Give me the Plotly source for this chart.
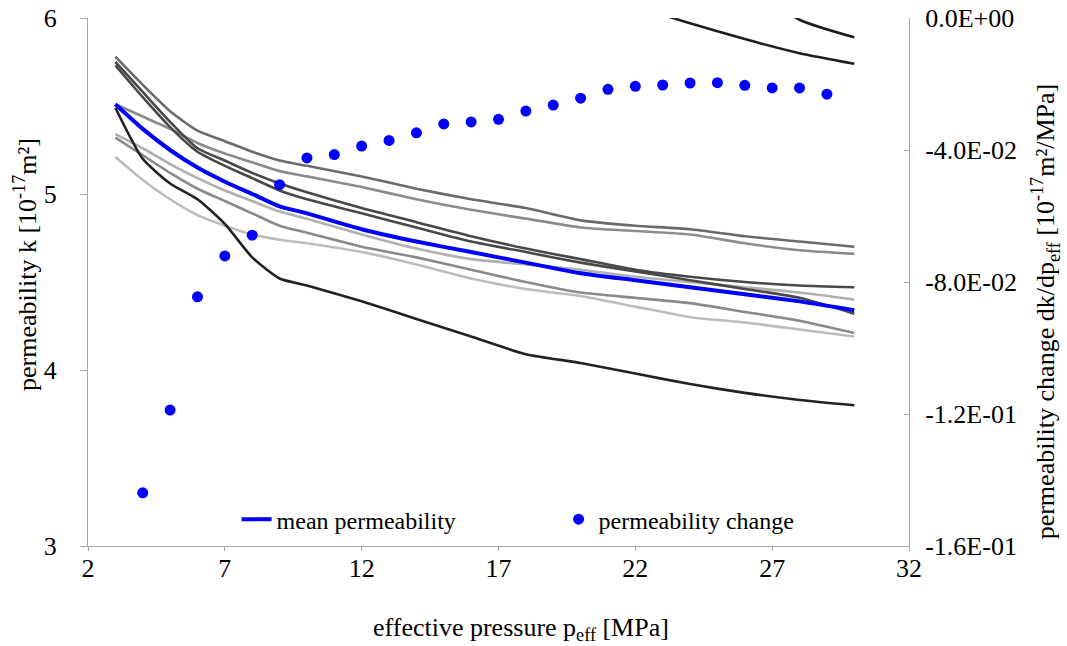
import plotly.graph_objects as go

# effective pressure grid for the individual sample curves [MPa]
p_eff = [3, 4, 5, 6, 7, 8, 9, 10, 12, 14, 16, 18, 20, 22, 24, 26, 28, 30]

# individual sample permeabilities [1e-17 m2]
sample_a = [5.78, 5.62, 5.47, 5.36, 5.30, 5.24, 5.19, 5.16, 5.10, 5.03, 4.97, 4.92, 4.85, 4.82, 4.80, 4.76, 4.73, 4.70]
sample_b = [5.51, 5.44, 5.37, 5.29, 5.23, 5.18, 5.13, 5.10, 5.04, 4.97, 4.91, 4.86, 4.81, 4.79, 4.77, 4.72, 4.68, 4.66]
sample_c = [5.75, 5.58, 5.41, 5.26, 5.19, 5.12, 5.06, 5.01, 4.92, 4.84, 4.76, 4.69, 4.63, 4.57, 4.53, 4.50, 4.48, 4.47]
sample_e = [5.73, 5.55, 5.38, 5.24, 5.16, 5.09, 5.02, 4.97, 4.89, 4.81, 4.73, 4.67, 4.61, 4.56, 4.51, 4.46, 4.41, 4.32]
sample_d = [5.34, 5.26, 5.17, 5.09, 5.02, 4.96, 4.90, 4.86, 4.77, 4.69, 4.63, 4.60, 4.57, 4.53, 4.50, 4.47, 4.44, 4.40]
sample_f = [5.32, 5.22, 5.12, 5.03, 4.96, 4.89, 4.82, 4.78, 4.70, 4.64, 4.57, 4.50, 4.44, 4.41, 4.38, 4.33, 4.28, 4.21]
sample_g = [5.21, 5.08, 4.97, 4.88, 4.82, 4.77, 4.74, 4.72, 4.67, 4.60, 4.52, 4.46, 4.42, 4.36, 4.30, 4.27, 4.23, 4.19]
sample_h = [5.49, 5.20, 5.06, 4.97, 4.83, 4.64, 4.52, 4.48, 4.39, 4.29, 4.19, 4.09, 4.04, 3.98, 3.92, 3.87, 3.83, 3.80]
sample_i = [8.6, 8.3, 8.0, 7.8, 7.6, 7.4, 7.25, 7.1, 6.9, 6.7, 6.5, 6.35, 6.2, 6.07, 5.97, 5.88, 5.80, 5.74]
sample_j = [9.2, 8.9, 8.6, 8.3, 8.1, 7.9, 7.7, 7.55, 7.3, 7.05, 6.85, 6.65, 6.45, 6.3, 6.38, 6.2, 5.99, 5.89]

mean_perm = [5.51, 5.37, 5.25, 5.15, 5.07, 5.00, 4.93, 4.89, 4.80, 4.73, 4.67, 4.61, 4.55, 4.51, 4.47, 4.43, 4.39, 4.34]

# permeability change dk/dp_eff [1e-17 m2/MPa]
p_change = [4, 5, 6, 7, 8, 9, 10, 11, 12, 13, 14, 15, 16, 17, 18, 19, 20, 21, 22, 23, 24, 25, 26, 27, 28, 29]
dk_dp = [-0.1439, -0.1188, -0.0845, -0.0721, -0.0658, -0.0505, -0.0424, -0.0414, -0.0388, -0.0371,
         -0.0348, -0.0321, -0.0315, -0.0307, -0.0282, -0.0264, -0.0243, -0.0216, -0.0207, -0.0203,
         -0.0197, -0.0196, -0.0204, -0.0212, -0.0212, -0.0231]

x_ticks = [2, 7, 12, 17, 22, 27, 32]
y_ticks = [3, 4, 5, 6]
y2_ticks = [0.0, -0.04, -0.08, -0.12, -0.16]
y2_ticktext = ["0.0E+00", "-4.0E-02", "-8.0E-02", "-1.2E-01", "-1.6E-01"]

x_title = "effective pressure p<sub>eff</sub> [MPa]"
y_title = "permeability k [10<sup>-17</sup>m²]"
y2_title = "permeability change dk/dp<sub>eff</sub> [10<sup>-17</sup>m²/MPa]"

samples = [
    (sample_i, "#1e1e1e"),
    (sample_j, "#1e1e1e"),
    (sample_g, "#bdbdbd"),
    (sample_d, "#b0b0b0"),
    (sample_f, "#8a8a8a"),
    (sample_b, "#8c8c8c"),
    (sample_a, "#6a6a6a"),
    (sample_c, "#484848"),
    (sample_e, "#484848"),
    (sample_h, "#222222"),
]

FONT = "Liberation Serif"
fig = go.Figure()
for vals, col in samples:
    fig.add_trace(go.Scatter(x=p_eff, y=vals, mode="lines", showlegend=False,
                             line=dict(color=col, width=2.6, shape="spline", smoothing=0.6),
                             hoverinfo="skip"))

fig.add_trace(go.Scatter(x=p_eff, y=mean_perm, mode="lines", name="mean permeability",
                         line=dict(color="#0000ff", width=4, shape="spline", smoothing=0.6)))
fig.add_trace(go.Scatter(x=p_change, y=dk_dp, mode="markers", name="permeability change",
                         yaxis="y2", marker=dict(color="#0000ff", size=11)))

axis_line = "#a6a6a6"
fig.update_layout(
    width=1067, height=646,
    margin=dict(l=88, r=158, t=18, b=100),
    paper_bgcolor="white", plot_bgcolor="white",
    font=dict(family=FONT, size=26, color="black"),
    xaxis=dict(range=[2, 32], tickvals=x_ticks, showgrid=False, zeroline=False,
               showline=True, linecolor=axis_line, linewidth=1, automargin=False,
               ticks="outside", ticklen=4, tickcolor=axis_line, ticklabelstandoff=-5),
    yaxis=dict(range=[3, 6], tickvals=y_ticks, showgrid=False, zeroline=False,
               showline=True, linecolor=axis_line, linewidth=1, automargin=False,
               ticks="outside", ticklen=7, tickcolor=axis_line, ticklabelstandoff=18),
    yaxis2=dict(range=[-0.16, 0], overlaying="y", side="right", tickvals=y2_ticks,
                ticktext=y2_ticktext, showgrid=False, zeroline=False, automargin=False,
                showline=True, linecolor=axis_line, linewidth=1,
                ticks="inside", ticklen=5, tickcolor=axis_line, ticklabelstandoff=10),
    legend=dict(orientation="h", x=0.181, y=0.05, xanchor="left", yanchor="middle",
                bgcolor="rgba(0,0,0,0)", font=dict(family=FONT, size=24), entrywidth=277,
                entrywidthmode="pixels"),
    annotations=[
        dict(text=x_title, xref="paper", yref="paper", x=0.528, y=-0.158,
             xanchor="center", yanchor="middle", showarrow=False, font=dict(size=26)),
        dict(text=y_title, xref="paper", yref="paper", x=-0.0768, y=0.534, textangle=-90,
             xanchor="center", yanchor="middle", showarrow=False, font=dict(size=26)),
        dict(text=y2_title, xref="paper", yref="paper", x=1.166, y=0.445, textangle=-90,
             xanchor="center", yanchor="middle", showarrow=False, font=dict(size=26)),
    ],
)

fig.write_html("out.html", config={"displayModeBar": False},
               post_script="document.body.style.margin='0';")
